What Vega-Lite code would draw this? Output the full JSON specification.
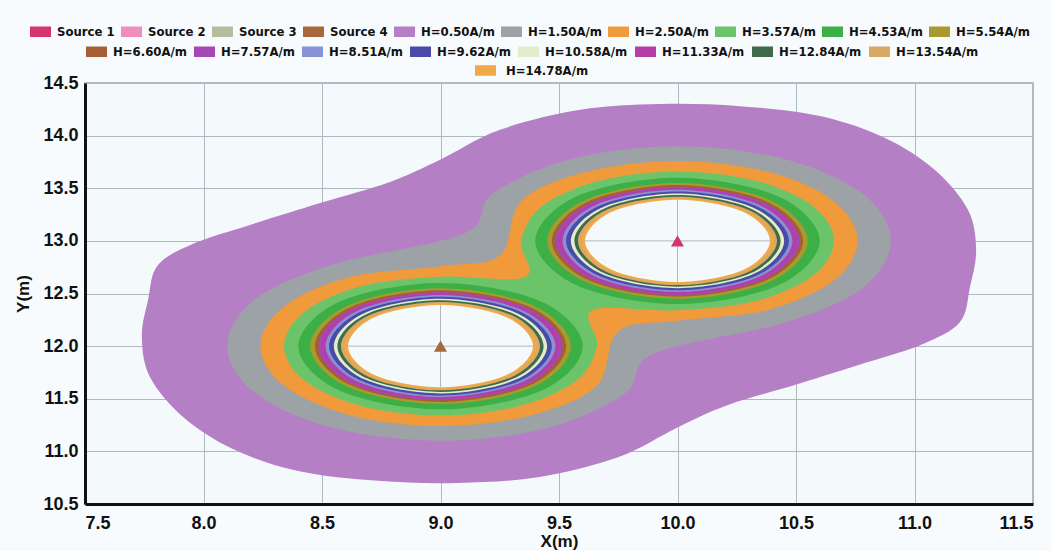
{
"$schema":"https://vega.github.io/schema/vega-lite/v6.json",
"width":948,"height":421,
"autosize":{"type":"none"},
"padding":{"left":85,"top":83,"right":19,"bottom":47},
"background":"#f8fbfd",
"config":{
 "view":{"stroke":"#9aa4ad","strokeWidth":1.5,"fill":"#f4f9fc"},
 "axis":{"domainColor":"#111","domainWidth":3,"ticks":false,"gridColor":"#b0b8c0","gridWidth":1,"labelFont":"Liberation Sans","labelFontSize":18,"labelFontWeight":"bold","labelColor":"#111","titleFont":"Liberation Sans","titleFontSize":17,"titleFontWeight":"bold","titleColor":"#111"},
 "legend":{"labelFont":"DejaVu Sans Condensed","labelFontSize":13,"labelFontWeight":"bold","labelColor":"#111","symbolType":"M-1,-0.5H1V0.5H-1Z","symbolSize":441,"symbolStrokeWidth":0,"padding":0,"rowPadding":0,"labelLimit":200}
},
"datasets":{
"contours":[
{"level":"H=0.50A/m","shape":"P","i":0,"x":7.766,"y":12.438},
{"level":"H=0.50A/m","shape":"P","i":1,"x":7.808,"y":12.771},
{"level":"H=0.50A/m","shape":"P","i":2,"x":7.964,"y":12.98},
{"level":"H=0.50A/m","shape":"P","i":3,"x":8.196,"y":13.152},
{"level":"H=0.50A/m","shape":"P","i":4,"x":8.492,"y":13.36},
{"level":"H=0.50A/m","shape":"P","i":5,"x":8.787,"y":13.56},
{"level":"H=0.50A/m","shape":"P","i":6,"x":8.998,"y":13.77},
{"level":"H=0.50A/m","shape":"P","i":7,"x":9.251,"y":14.055},
{"level":"H=0.50A/m","shape":"P","i":8,"x":9.589,"y":14.245},
{"level":"H=0.50A/m","shape":"P","i":9,"x":9.926,"y":14.3},
{"level":"H=0.50A/m","shape":"P","i":10,"x":10.264,"y":14.28},
{"level":"H=0.50A/m","shape":"P","i":11,"x":10.601,"y":14.186},
{"level":"H=0.50A/m","shape":"P","i":12,"x":10.876,"y":13.977},
{"level":"H=0.50A/m","shape":"P","i":13,"x":11.086,"y":13.673},
{"level":"H=0.50A/m","shape":"P","i":14,"x":11.226,"y":13.293},
{"level":"H=0.50A/m","shape":"P","i":15,"x":11.26,"y":12.913},
{"level":"H=0.50A/m","shape":"P","i":16,"x":11.234,"y":12.562},
{"level":"H=0.50A/m","shape":"P","i":17,"x":11.192,"y":12.229},
{"level":"H=0.50A/m","shape":"P","i":18,"x":11.036,"y":12.02},
{"level":"H=0.50A/m","shape":"P","i":19,"x":10.804,"y":11.848},
{"level":"H=0.50A/m","shape":"P","i":20,"x":10.508,"y":11.64},
{"level":"H=0.50A/m","shape":"P","i":21,"x":10.213,"y":11.44},
{"level":"H=0.50A/m","shape":"P","i":22,"x":10.002,"y":11.23},
{"level":"H=0.50A/m","shape":"P","i":23,"x":9.749,"y":10.945},
{"level":"H=0.50A/m","shape":"P","i":24,"x":9.411,"y":10.755},
{"level":"H=0.50A/m","shape":"P","i":25,"x":9.074,"y":10.7},
{"level":"H=0.50A/m","shape":"P","i":26,"x":8.736,"y":10.72},
{"level":"H=0.50A/m","shape":"P","i":27,"x":8.399,"y":10.814},
{"level":"H=0.50A/m","shape":"P","i":28,"x":8.124,"y":11.023},
{"level":"H=0.50A/m","shape":"P","i":29,"x":7.914,"y":11.327},
{"level":"H=0.50A/m","shape":"P","i":30,"x":7.774,"y":11.707},
{"level":"H=0.50A/m","shape":"P","i":31,"x":7.74,"y":12.087},
{"level":"H=1.50A/m","shape":"P","i":0,"x":10.45,"y":12.221},
{"level":"H=1.50A/m","shape":"P","i":1,"x":10.779,"y":12.55},
{"level":"H=1.50A/m","shape":"P","i":2,"x":10.9,"y":13.0},
{"level":"H=1.50A/m","shape":"P","i":3,"x":10.779,"y":13.45},
{"level":"H=1.50A/m","shape":"P","i":4,"x":10.45,"y":13.779},
{"level":"H=1.50A/m","shape":"P","i":5,"x":10.0,"y":13.9},
{"level":"H=1.50A/m","shape":"P","i":6,"x":9.55,"y":13.779},
{"level":"H=1.50A/m","shape":"P","i":7,"x":9.221,"y":13.45},
{"level":"H=1.50A/m","shape":"P","i":8,"x":9.1,"y":13.07},
{"level":"H=1.50A/m","shape":"P","i":9,"x":8.55,"y":12.779},
{"level":"H=1.50A/m","shape":"P","i":10,"x":8.221,"y":12.45},
{"level":"H=1.50A/m","shape":"P","i":11,"x":8.1,"y":12.0},
{"level":"H=1.50A/m","shape":"P","i":12,"x":8.221,"y":11.55},
{"level":"H=1.50A/m","shape":"P","i":13,"x":8.55,"y":11.221},
{"level":"H=1.50A/m","shape":"P","i":14,"x":9.0,"y":11.1},
{"level":"H=1.50A/m","shape":"P","i":15,"x":9.45,"y":11.221},
{"level":"H=1.50A/m","shape":"P","i":16,"x":9.779,"y":11.55},
{"level":"H=1.50A/m","shape":"P","i":17,"x":9.9,"y":11.93},
{"level":"H=2.50A/m","shape":"P","i":0,"x":10.0,"y":12.24},
{"level":"H=2.50A/m","shape":"P","i":1,"x":10.38,"y":12.342},
{"level":"H=2.50A/m","shape":"P","i":2,"x":10.658,"y":12.62},
{"level":"H=2.50A/m","shape":"P","i":3,"x":10.76,"y":13.0},
{"level":"H=2.50A/m","shape":"P","i":4,"x":10.658,"y":13.38},
{"level":"H=2.50A/m","shape":"P","i":5,"x":10.38,"y":13.658},
{"level":"H=2.50A/m","shape":"P","i":6,"x":10.0,"y":13.76},
{"level":"H=2.50A/m","shape":"P","i":7,"x":9.62,"y":13.658},
{"level":"H=2.50A/m","shape":"P","i":8,"x":9.342,"y":13.38},
{"level":"H=2.50A/m","shape":"P","i":9,"x":9.25,"y":12.86},
{"level":"H=2.50A/m","shape":"P","i":10,"x":9.0,"y":12.76},
{"level":"H=2.50A/m","shape":"P","i":11,"x":8.62,"y":12.658},
{"level":"H=2.50A/m","shape":"P","i":12,"x":8.342,"y":12.38},
{"level":"H=2.50A/m","shape":"P","i":13,"x":8.24,"y":12.0},
{"level":"H=2.50A/m","shape":"P","i":14,"x":8.342,"y":11.62},
{"level":"H=2.50A/m","shape":"P","i":15,"x":8.62,"y":11.342},
{"level":"H=2.50A/m","shape":"P","i":16,"x":9.0,"y":11.24},
{"level":"H=2.50A/m","shape":"P","i":17,"x":9.38,"y":11.342},
{"level":"H=2.50A/m","shape":"P","i":18,"x":9.658,"y":11.62},
{"level":"H=2.50A/m","shape":"P","i":19,"x":9.75,"y":12.14},
{"level":"H=3.57A/m","shape":"P","i":0,"x":10.0,"y":12.34},
{"level":"H=3.57A/m","shape":"P","i":1,"x":10.33,"y":12.428},
{"level":"H=3.57A/m","shape":"P","i":2,"x":10.572,"y":12.67},
{"level":"H=3.57A/m","shape":"P","i":3,"x":10.66,"y":13.0},
{"level":"H=3.57A/m","shape":"P","i":4,"x":10.572,"y":13.33},
{"level":"H=3.57A/m","shape":"P","i":5,"x":10.33,"y":13.572},
{"level":"H=3.57A/m","shape":"P","i":6,"x":10.0,"y":13.66},
{"level":"H=3.57A/m","shape":"P","i":7,"x":9.67,"y":13.572},
{"level":"H=3.57A/m","shape":"P","i":8,"x":9.428,"y":13.33},
{"level":"H=3.57A/m","shape":"P","i":9,"x":9.34,"y":13.0},
{"level":"H=3.57A/m","shape":"P","i":10,"x":9.357,"y":12.657},
{"level":"H=3.57A/m","shape":"P","i":11,"x":9.0,"y":12.66},
{"level":"H=3.57A/m","shape":"P","i":12,"x":8.67,"y":12.572},
{"level":"H=3.57A/m","shape":"P","i":13,"x":8.428,"y":12.33},
{"level":"H=3.57A/m","shape":"P","i":14,"x":8.34,"y":12.0},
{"level":"H=3.57A/m","shape":"P","i":15,"x":8.428,"y":11.67},
{"level":"H=3.57A/m","shape":"P","i":16,"x":8.67,"y":11.428},
{"level":"H=3.57A/m","shape":"P","i":17,"x":9.0,"y":11.34},
{"level":"H=3.57A/m","shape":"P","i":18,"x":9.33,"y":11.428},
{"level":"H=3.57A/m","shape":"P","i":19,"x":9.572,"y":11.67},
{"level":"H=3.57A/m","shape":"P","i":20,"x":9.66,"y":12.0},
{"level":"H=3.57A/m","shape":"P","i":21,"x":9.643,"y":12.343},
{"level":"H=4.53A/m","shape":"A","i":0,"x":9.6,"y":12},{"level":"H=4.53A/m","shape":"A","i":1,"x":9.424,"y":12.424},{"level":"H=4.53A/m","shape":"A","i":2,"x":9,"y":12.6},{"level":"H=4.53A/m","shape":"A","i":3,"x":8.576,"y":12.424},{"level":"H=4.53A/m","shape":"A","i":4,"x":8.4,"y":12},{"level":"H=4.53A/m","shape":"A","i":5,"x":8.576,"y":11.576},{"level":"H=4.53A/m","shape":"A","i":6,"x":9,"y":11.4},{"level":"H=4.53A/m","shape":"A","i":7,"x":9.424,"y":11.576},
{"level":"H=4.53A/m","shape":"B","i":0,"x":10.6,"y":13},{"level":"H=4.53A/m","shape":"B","i":1,"x":10.424,"y":13.424},{"level":"H=4.53A/m","shape":"B","i":2,"x":10,"y":13.6},{"level":"H=4.53A/m","shape":"B","i":3,"x":9.576,"y":13.424},{"level":"H=4.53A/m","shape":"B","i":4,"x":9.4,"y":13},{"level":"H=4.53A/m","shape":"B","i":5,"x":9.576,"y":12.576},{"level":"H=4.53A/m","shape":"B","i":6,"x":10,"y":12.4},{"level":"H=4.53A/m","shape":"B","i":7,"x":10.424,"y":12.576},
{"level":"H=5.54A/m","shape":"A","i":0,"x":9.55,"y":12},{"level":"H=5.54A/m","shape":"A","i":1,"x":9.389,"y":12.389},{"level":"H=5.54A/m","shape":"A","i":2,"x":9,"y":12.55},{"level":"H=5.54A/m","shape":"A","i":3,"x":8.611,"y":12.389},{"level":"H=5.54A/m","shape":"A","i":4,"x":8.45,"y":12},{"level":"H=5.54A/m","shape":"A","i":5,"x":8.611,"y":11.611},{"level":"H=5.54A/m","shape":"A","i":6,"x":9,"y":11.45},{"level":"H=5.54A/m","shape":"A","i":7,"x":9.389,"y":11.611},
{"level":"H=5.54A/m","shape":"B","i":0,"x":10.55,"y":13},{"level":"H=5.54A/m","shape":"B","i":1,"x":10.389,"y":13.389},{"level":"H=5.54A/m","shape":"B","i":2,"x":10,"y":13.55},{"level":"H=5.54A/m","shape":"B","i":3,"x":9.611,"y":13.389},{"level":"H=5.54A/m","shape":"B","i":4,"x":9.45,"y":13},{"level":"H=5.54A/m","shape":"B","i":5,"x":9.611,"y":12.611},{"level":"H=5.54A/m","shape":"B","i":6,"x":10,"y":12.45},{"level":"H=5.54A/m","shape":"B","i":7,"x":10.389,"y":12.611},
{"level":"H=6.60A/m","shape":"A","i":0,"x":9.53,"y":12},{"level":"H=6.60A/m","shape":"A","i":1,"x":9.375,"y":12.375},{"level":"H=6.60A/m","shape":"A","i":2,"x":9,"y":12.53},{"level":"H=6.60A/m","shape":"A","i":3,"x":8.625,"y":12.375},{"level":"H=6.60A/m","shape":"A","i":4,"x":8.47,"y":12},{"level":"H=6.60A/m","shape":"A","i":5,"x":8.625,"y":11.625},{"level":"H=6.60A/m","shape":"A","i":6,"x":9,"y":11.47},{"level":"H=6.60A/m","shape":"A","i":7,"x":9.375,"y":11.625},
{"level":"H=6.60A/m","shape":"B","i":0,"x":10.53,"y":13},{"level":"H=6.60A/m","shape":"B","i":1,"x":10.375,"y":13.375},{"level":"H=6.60A/m","shape":"B","i":2,"x":10,"y":13.53},{"level":"H=6.60A/m","shape":"B","i":3,"x":9.625,"y":13.375},{"level":"H=6.60A/m","shape":"B","i":4,"x":9.47,"y":13},{"level":"H=6.60A/m","shape":"B","i":5,"x":9.625,"y":12.625},{"level":"H=6.60A/m","shape":"B","i":6,"x":10,"y":12.47},{"level":"H=6.60A/m","shape":"B","i":7,"x":10.375,"y":12.625},
{"level":"H=7.57A/m","shape":"A","i":0,"x":9.515,"y":12},{"level":"H=7.57A/m","shape":"A","i":1,"x":9.364,"y":12.364},{"level":"H=7.57A/m","shape":"A","i":2,"x":9,"y":12.515},{"level":"H=7.57A/m","shape":"A","i":3,"x":8.636,"y":12.364},{"level":"H=7.57A/m","shape":"A","i":4,"x":8.485,"y":12},{"level":"H=7.57A/m","shape":"A","i":5,"x":8.636,"y":11.636},{"level":"H=7.57A/m","shape":"A","i":6,"x":9,"y":11.485},{"level":"H=7.57A/m","shape":"A","i":7,"x":9.364,"y":11.636},
{"level":"H=7.57A/m","shape":"B","i":0,"x":10.515,"y":13},{"level":"H=7.57A/m","shape":"B","i":1,"x":10.364,"y":13.364},{"level":"H=7.57A/m","shape":"B","i":2,"x":10,"y":13.515},{"level":"H=7.57A/m","shape":"B","i":3,"x":9.636,"y":13.364},{"level":"H=7.57A/m","shape":"B","i":4,"x":9.485,"y":13},{"level":"H=7.57A/m","shape":"B","i":5,"x":9.636,"y":12.636},{"level":"H=7.57A/m","shape":"B","i":6,"x":10,"y":12.485},{"level":"H=7.57A/m","shape":"B","i":7,"x":10.364,"y":12.636},
{"level":"H=11.33A/m","shape":"A","i":0,"x":9.5,"y":12},{"level":"H=11.33A/m","shape":"A","i":1,"x":9.354,"y":12.354},{"level":"H=11.33A/m","shape":"A","i":2,"x":9,"y":12.5},{"level":"H=11.33A/m","shape":"A","i":3,"x":8.646,"y":12.354},{"level":"H=11.33A/m","shape":"A","i":4,"x":8.5,"y":12},{"level":"H=11.33A/m","shape":"A","i":5,"x":8.646,"y":11.646},{"level":"H=11.33A/m","shape":"A","i":6,"x":9,"y":11.5},{"level":"H=11.33A/m","shape":"A","i":7,"x":9.354,"y":11.646},
{"level":"H=11.33A/m","shape":"B","i":0,"x":10.5,"y":13},{"level":"H=11.33A/m","shape":"B","i":1,"x":10.354,"y":13.354},{"level":"H=11.33A/m","shape":"B","i":2,"x":10,"y":13.5},{"level":"H=11.33A/m","shape":"B","i":3,"x":9.646,"y":13.354},{"level":"H=11.33A/m","shape":"B","i":4,"x":9.5,"y":13},{"level":"H=11.33A/m","shape":"B","i":5,"x":9.646,"y":12.646},{"level":"H=11.33A/m","shape":"B","i":6,"x":10,"y":12.5},{"level":"H=11.33A/m","shape":"B","i":7,"x":10.354,"y":12.646},
{"level":"H=8.51A/m","shape":"A","i":0,"x":9.485,"y":12},{"level":"H=8.51A/m","shape":"A","i":1,"x":9.343,"y":12.343},{"level":"H=8.51A/m","shape":"A","i":2,"x":9,"y":12.485},{"level":"H=8.51A/m","shape":"A","i":3,"x":8.657,"y":12.343},{"level":"H=8.51A/m","shape":"A","i":4,"x":8.515,"y":12},{"level":"H=8.51A/m","shape":"A","i":5,"x":8.657,"y":11.657},{"level":"H=8.51A/m","shape":"A","i":6,"x":9,"y":11.515},{"level":"H=8.51A/m","shape":"A","i":7,"x":9.343,"y":11.657},
{"level":"H=8.51A/m","shape":"B","i":0,"x":10.485,"y":13},{"level":"H=8.51A/m","shape":"B","i":1,"x":10.343,"y":13.343},{"level":"H=8.51A/m","shape":"B","i":2,"x":10,"y":13.485},{"level":"H=8.51A/m","shape":"B","i":3,"x":9.657,"y":13.343},{"level":"H=8.51A/m","shape":"B","i":4,"x":9.515,"y":13},{"level":"H=8.51A/m","shape":"B","i":5,"x":9.657,"y":12.657},{"level":"H=8.51A/m","shape":"B","i":6,"x":10,"y":12.515},{"level":"H=8.51A/m","shape":"B","i":7,"x":10.343,"y":12.657},
{"level":"H=9.62A/m","shape":"A","i":0,"x":9.47,"y":12},{"level":"H=9.62A/m","shape":"A","i":1,"x":9.332,"y":12.332},{"level":"H=9.62A/m","shape":"A","i":2,"x":9,"y":12.47},{"level":"H=9.62A/m","shape":"A","i":3,"x":8.668,"y":12.332},{"level":"H=9.62A/m","shape":"A","i":4,"x":8.53,"y":12},{"level":"H=9.62A/m","shape":"A","i":5,"x":8.668,"y":11.668},{"level":"H=9.62A/m","shape":"A","i":6,"x":9,"y":11.53},{"level":"H=9.62A/m","shape":"A","i":7,"x":9.332,"y":11.668},
{"level":"H=9.62A/m","shape":"B","i":0,"x":10.47,"y":13},{"level":"H=9.62A/m","shape":"B","i":1,"x":10.332,"y":13.332},{"level":"H=9.62A/m","shape":"B","i":2,"x":10,"y":13.47},{"level":"H=9.62A/m","shape":"B","i":3,"x":9.668,"y":13.332},{"level":"H=9.62A/m","shape":"B","i":4,"x":9.53,"y":13},{"level":"H=9.62A/m","shape":"B","i":5,"x":9.668,"y":12.668},{"level":"H=9.62A/m","shape":"B","i":6,"x":10,"y":12.53},{"level":"H=9.62A/m","shape":"B","i":7,"x":10.332,"y":12.668},
{"level":"H=10.58A/m","shape":"A","i":0,"x":9.45,"y":12},{"level":"H=10.58A/m","shape":"A","i":1,"x":9.318,"y":12.318},{"level":"H=10.58A/m","shape":"A","i":2,"x":9,"y":12.45},{"level":"H=10.58A/m","shape":"A","i":3,"x":8.682,"y":12.318},{"level":"H=10.58A/m","shape":"A","i":4,"x":8.55,"y":12},{"level":"H=10.58A/m","shape":"A","i":5,"x":8.682,"y":11.682},{"level":"H=10.58A/m","shape":"A","i":6,"x":9,"y":11.55},{"level":"H=10.58A/m","shape":"A","i":7,"x":9.318,"y":11.682},
{"level":"H=10.58A/m","shape":"B","i":0,"x":10.45,"y":13},{"level":"H=10.58A/m","shape":"B","i":1,"x":10.318,"y":13.318},{"level":"H=10.58A/m","shape":"B","i":2,"x":10,"y":13.45},{"level":"H=10.58A/m","shape":"B","i":3,"x":9.682,"y":13.318},{"level":"H=10.58A/m","shape":"B","i":4,"x":9.55,"y":13},{"level":"H=10.58A/m","shape":"B","i":5,"x":9.682,"y":12.682},{"level":"H=10.58A/m","shape":"B","i":6,"x":10,"y":12.55},{"level":"H=10.58A/m","shape":"B","i":7,"x":10.318,"y":12.682},
{"level":"H=12.84A/m","shape":"A","i":0,"x":9.435,"y":12},{"level":"H=12.84A/m","shape":"A","i":1,"x":9.308,"y":12.308},{"level":"H=12.84A/m","shape":"A","i":2,"x":9,"y":12.435},{"level":"H=12.84A/m","shape":"A","i":3,"x":8.692,"y":12.308},{"level":"H=12.84A/m","shape":"A","i":4,"x":8.565,"y":12},{"level":"H=12.84A/m","shape":"A","i":5,"x":8.692,"y":11.692},{"level":"H=12.84A/m","shape":"A","i":6,"x":9,"y":11.565},{"level":"H=12.84A/m","shape":"A","i":7,"x":9.308,"y":11.692},
{"level":"H=12.84A/m","shape":"B","i":0,"x":10.435,"y":13},{"level":"H=12.84A/m","shape":"B","i":1,"x":10.308,"y":13.308},{"level":"H=12.84A/m","shape":"B","i":2,"x":10,"y":13.435},{"level":"H=12.84A/m","shape":"B","i":3,"x":9.692,"y":13.308},{"level":"H=12.84A/m","shape":"B","i":4,"x":9.565,"y":13},{"level":"H=12.84A/m","shape":"B","i":5,"x":9.692,"y":12.692},{"level":"H=12.84A/m","shape":"B","i":6,"x":10,"y":12.565},{"level":"H=12.84A/m","shape":"B","i":7,"x":10.308,"y":12.692},
{"level":"H=13.54A/m","shape":"A","i":0,"x":9.42,"y":12},{"level":"H=13.54A/m","shape":"A","i":1,"x":9.297,"y":12.297},{"level":"H=13.54A/m","shape":"A","i":2,"x":9,"y":12.42},{"level":"H=13.54A/m","shape":"A","i":3,"x":8.703,"y":12.297},{"level":"H=13.54A/m","shape":"A","i":4,"x":8.58,"y":12},{"level":"H=13.54A/m","shape":"A","i":5,"x":8.703,"y":11.703},{"level":"H=13.54A/m","shape":"A","i":6,"x":9,"y":11.58},{"level":"H=13.54A/m","shape":"A","i":7,"x":9.297,"y":11.703},
{"level":"H=13.54A/m","shape":"B","i":0,"x":10.42,"y":13},{"level":"H=13.54A/m","shape":"B","i":1,"x":10.297,"y":13.297},{"level":"H=13.54A/m","shape":"B","i":2,"x":10,"y":13.42},{"level":"H=13.54A/m","shape":"B","i":3,"x":9.703,"y":13.297},{"level":"H=13.54A/m","shape":"B","i":4,"x":9.58,"y":13},{"level":"H=13.54A/m","shape":"B","i":5,"x":9.703,"y":12.703},{"level":"H=13.54A/m","shape":"B","i":6,"x":10,"y":12.58},{"level":"H=13.54A/m","shape":"B","i":7,"x":10.297,"y":12.703},
{"level":"H=14.78A/m","shape":"A","i":0,"x":9.405,"y":12},{"level":"H=14.78A/m","shape":"A","i":1,"x":9.286,"y":12.286},{"level":"H=14.78A/m","shape":"A","i":2,"x":9,"y":12.405},{"level":"H=14.78A/m","shape":"A","i":3,"x":8.714,"y":12.286},{"level":"H=14.78A/m","shape":"A","i":4,"x":8.595,"y":12},{"level":"H=14.78A/m","shape":"A","i":5,"x":8.714,"y":11.714},{"level":"H=14.78A/m","shape":"A","i":6,"x":9,"y":11.595},{"level":"H=14.78A/m","shape":"A","i":7,"x":9.286,"y":11.714},
{"level":"H=14.78A/m","shape":"B","i":0,"x":10.405,"y":13},{"level":"H=14.78A/m","shape":"B","i":1,"x":10.286,"y":13.286},{"level":"H=14.78A/m","shape":"B","i":2,"x":10,"y":13.405},{"level":"H=14.78A/m","shape":"B","i":3,"x":9.714,"y":13.286},{"level":"H=14.78A/m","shape":"B","i":4,"x":9.595,"y":13},{"level":"H=14.78A/m","shape":"B","i":5,"x":9.714,"y":12.714},{"level":"H=14.78A/m","shape":"B","i":6,"x":10,"y":12.595},{"level":"H=14.78A/m","shape":"B","i":7,"x":10.286,"y":12.714},
{"level":"inside","shape":"A","i":0,"x":9.39,"y":12},{"level":"inside","shape":"A","i":1,"x":9.276,"y":12.276},{"level":"inside","shape":"A","i":2,"x":9,"y":12.39},{"level":"inside","shape":"A","i":3,"x":8.724,"y":12.276},{"level":"inside","shape":"A","i":4,"x":8.61,"y":12},{"level":"inside","shape":"A","i":5,"x":8.724,"y":11.724},{"level":"inside","shape":"A","i":6,"x":9,"y":11.61},{"level":"inside","shape":"A","i":7,"x":9.276,"y":11.724},
{"level":"inside","shape":"B","i":0,"x":10.39,"y":13},{"level":"inside","shape":"B","i":1,"x":10.276,"y":13.276},{"level":"inside","shape":"B","i":2,"x":10,"y":13.39},{"level":"inside","shape":"B","i":3,"x":9.724,"y":13.276},{"level":"inside","shape":"B","i":4,"x":9.61,"y":13},{"level":"inside","shape":"B","i":5,"x":9.724,"y":12.724},{"level":"inside","shape":"B","i":6,"x":10,"y":12.61},{"level":"inside","shape":"B","i":7,"x":10.276,"y":12.724}
],
"gridseg":[
{"x":9,"x2":9,"y":11.61,"y2":12.39},
{"x":8.61,"x2":9.39,"y":12,"y2":12},
{"x":10,"x2":10,"y":12.61,"y2":13.39},
{"x":9.61,"x2":10.39,"y":13,"y2":13}
],
"sources":[
{"level":"Source 1","x":10.0,"y":13.0},
{"level":"Source 4","x":9.0,"y":12.0}
]
},
"encoding":{
 "x":{"field":"x","type":"quantitative","scale":{"domain":[7.5,11.5],"nice":false,"zero":false},"axis":{"title":"X(m)","values":[7.5,8,8.5,9,9.5,10,10.5,11,11.5],"format":".1f","labelPadding":10,"titlePadding":1}},
 "y":{"field":"y","type":"quantitative","scale":{"domain":[10.5,14.5],"nice":false,"zero":false},"axis":{"title":"Y(m)","values":[10.5,11,11.5,12,12.5,13,13.5,14,14.5],"format":".1f","labelPadding":7,"titlePadding":10}}
},
"layer":[
{"data":{"name":"contours"},"transform":[{"filter":{"field":"level","equal":"H=0.50A/m"}}],"mark":{"type":"line","interpolate":"cardinal-closed","strokeWidth":0},
 "encoding":{"detail":{"field":"shape"},"order":{"field":"i","type":"quantitative"},
 "fill":{"field":"level","type":"nominal","scale":{"domain":["Source 1","Source 2","Source 3","Source 4","H=0.50A/m","H=1.50A/m","H=2.50A/m","H=3.57A/m","H=4.53A/m","H=5.54A/m"],"range":["#d5356b","#f08cc0","#b5bd9e","#a9683b","#b57fc6","#9ca2a5","#f09a3c","#6cc46a","#3caf46","#a89a2e"]},"legend":{"title":null,"orient":"none","legendX":-55,"legendY":-62,"direction":"horizontal","columns":10,"columnPadding":6,"labelOffset":6,"encode":{"symbols":{"update":{"fill":{"scale":"fill","field":"value"},"strokeWidth":{"value":0}}}}}}}},
{"data":{"name":"contours"},"transform":[{"filter":{"field":"level","equal":"H=1.50A/m"}}],"mark":{"type":"line","interpolate":"cardinal-closed","strokeWidth":0},
 "encoding":{"detail":{"field":"shape"},"order":{"field":"i","type":"quantitative"},
 "fill":{"field":"level","type":"nominal","scale":{"domain":["Source 1","Source 2","Source 3","Source 4","H=0.50A/m","H=1.50A/m","H=2.50A/m","H=3.57A/m","H=4.53A/m","H=5.54A/m"],"range":["#d5356b","#f08cc0","#b5bd9e","#a9683b","#b57fc6","#9ca2a5","#f09a3c","#6cc46a","#3caf46","#a89a2e"]},"legend":{"title":null,"orient":"none","legendX":-55,"legendY":-62,"direction":"horizontal","columns":10,"columnPadding":6,"labelOffset":6,"encode":{"symbols":{"update":{"fill":{"scale":"fill","field":"value"},"strokeWidth":{"value":0}}}}}}}},
{"data":{"name":"contours"},"transform":[{"filter":{"field":"level","equal":"H=2.50A/m"}}],"mark":{"type":"line","interpolate":"cardinal-closed","strokeWidth":0},
 "encoding":{"detail":{"field":"shape"},"order":{"field":"i","type":"quantitative"},
 "fill":{"field":"level","type":"nominal","scale":{"domain":["Source 1","Source 2","Source 3","Source 4","H=0.50A/m","H=1.50A/m","H=2.50A/m","H=3.57A/m","H=4.53A/m","H=5.54A/m"],"range":["#d5356b","#f08cc0","#b5bd9e","#a9683b","#b57fc6","#9ca2a5","#f09a3c","#6cc46a","#3caf46","#a89a2e"]},"legend":{"title":null,"orient":"none","legendX":-55,"legendY":-62,"direction":"horizontal","columns":10,"columnPadding":6,"labelOffset":6,"encode":{"symbols":{"update":{"fill":{"scale":"fill","field":"value"},"strokeWidth":{"value":0}}}}}}}},
{"data":{"name":"contours"},"transform":[{"filter":{"field":"level","equal":"H=3.57A/m"}}],"mark":{"type":"line","interpolate":"cardinal-closed","strokeWidth":0},
 "encoding":{"detail":{"field":"shape"},"order":{"field":"i","type":"quantitative"},
 "fill":{"field":"level","type":"nominal","scale":{"domain":["Source 1","Source 2","Source 3","Source 4","H=0.50A/m","H=1.50A/m","H=2.50A/m","H=3.57A/m","H=4.53A/m","H=5.54A/m"],"range":["#d5356b","#f08cc0","#b5bd9e","#a9683b","#b57fc6","#9ca2a5","#f09a3c","#6cc46a","#3caf46","#a89a2e"]},"legend":{"title":null,"orient":"none","legendX":-55,"legendY":-62,"direction":"horizontal","columns":10,"columnPadding":6,"labelOffset":6,"encode":{"symbols":{"update":{"fill":{"scale":"fill","field":"value"},"strokeWidth":{"value":0}}}}}}}},
{"data":{"name":"contours"},"transform":[{"filter":{"field":"level","equal":"H=4.53A/m"}}],"mark":{"type":"line","interpolate":"cardinal-closed","strokeWidth":0},
 "encoding":{"detail":{"field":"shape"},"order":{"field":"i","type":"quantitative"},
 "fill":{"field":"level","type":"nominal","scale":{"domain":["Source 1","Source 2","Source 3","Source 4","H=0.50A/m","H=1.50A/m","H=2.50A/m","H=3.57A/m","H=4.53A/m","H=5.54A/m"],"range":["#d5356b","#f08cc0","#b5bd9e","#a9683b","#b57fc6","#9ca2a5","#f09a3c","#6cc46a","#3caf46","#a89a2e"]},"legend":{"title":null,"orient":"none","legendX":-55,"legendY":-62,"direction":"horizontal","columns":10,"columnPadding":6,"labelOffset":6,"encode":{"symbols":{"update":{"fill":{"scale":"fill","field":"value"},"strokeWidth":{"value":0}}}}}}}},
{"data":{"name":"contours"},"transform":[{"filter":{"field":"level","equal":"H=5.54A/m"}}],"mark":{"type":"line","interpolate":"cardinal-closed","strokeWidth":0},
 "encoding":{"detail":{"field":"shape"},"order":{"field":"i","type":"quantitative"},
 "fill":{"field":"level","type":"nominal","scale":{"domain":["Source 1","Source 2","Source 3","Source 4","H=0.50A/m","H=1.50A/m","H=2.50A/m","H=3.57A/m","H=4.53A/m","H=5.54A/m"],"range":["#d5356b","#f08cc0","#b5bd9e","#a9683b","#b57fc6","#9ca2a5","#f09a3c","#6cc46a","#3caf46","#a89a2e"]},"legend":{"title":null,"orient":"none","legendX":-55,"legendY":-62,"direction":"horizontal","columns":10,"columnPadding":6,"labelOffset":6,"encode":{"symbols":{"update":{"fill":{"scale":"fill","field":"value"},"strokeWidth":{"value":0}}}}}}}},
{"data":{"name":"contours"},"transform":[{"filter":{"field":"level","equal":"H=6.60A/m"}}],"mark":{"type":"line","interpolate":"cardinal-closed","filled":true,"strokeWidth":0},
 "encoding":{"detail":{"field":"shape"},"order":{"field":"i","type":"quantitative"},
 "color":{"field":"level","type":"nominal","scale":{"domain":["H=6.60A/m","H=7.57A/m","H=8.51A/m","H=9.62A/m","H=10.58A/m","H=11.33A/m","H=12.84A/m","H=13.54A/m"],"range":["#a45f35","#a547b4","#8890d6","#4a4aa8","#e2eecb","#b43da8","#3f6b4b","#d9a862"]},"legend":{"title":null,"orient":"none","legendX":1,"legendY":-42,"direction":"horizontal","columns":8,"columnPadding":7,"labelOffset":6,"encode":{"symbols":{"update":{"fill":{"scale":"color","field":"value"},"strokeWidth":{"value":0}}}}}}}},
{"data":{"name":"contours"},"transform":[{"filter":{"field":"level","equal":"H=7.57A/m"}}],"mark":{"type":"line","interpolate":"cardinal-closed","filled":true,"strokeWidth":0},
 "encoding":{"detail":{"field":"shape"},"order":{"field":"i","type":"quantitative"},
 "color":{"field":"level","type":"nominal","scale":{"domain":["H=6.60A/m","H=7.57A/m","H=8.51A/m","H=9.62A/m","H=10.58A/m","H=11.33A/m","H=12.84A/m","H=13.54A/m"],"range":["#a45f35","#a547b4","#8890d6","#4a4aa8","#e2eecb","#b43da8","#3f6b4b","#d9a862"]},"legend":{"title":null,"orient":"none","legendX":1,"legendY":-42,"direction":"horizontal","columns":8,"columnPadding":7,"labelOffset":6,"encode":{"symbols":{"update":{"fill":{"scale":"color","field":"value"},"strokeWidth":{"value":0}}}}}}}},
{"data":{"name":"contours"},"transform":[{"filter":{"field":"level","equal":"H=11.33A/m"}}],"mark":{"type":"line","interpolate":"cardinal-closed","filled":true,"strokeWidth":0},
 "encoding":{"detail":{"field":"shape"},"order":{"field":"i","type":"quantitative"},
 "color":{"field":"level","type":"nominal","scale":{"domain":["H=6.60A/m","H=7.57A/m","H=8.51A/m","H=9.62A/m","H=10.58A/m","H=11.33A/m","H=12.84A/m","H=13.54A/m"],"range":["#a45f35","#a547b4","#8890d6","#4a4aa8","#e2eecb","#b43da8","#3f6b4b","#d9a862"]},"legend":{"title":null,"orient":"none","legendX":1,"legendY":-42,"direction":"horizontal","columns":8,"columnPadding":7,"labelOffset":6,"encode":{"symbols":{"update":{"fill":{"scale":"color","field":"value"},"strokeWidth":{"value":0}}}}}}}},
{"data":{"name":"contours"},"transform":[{"filter":{"field":"level","equal":"H=8.51A/m"}}],"mark":{"type":"line","interpolate":"cardinal-closed","filled":true,"strokeWidth":0},
 "encoding":{"detail":{"field":"shape"},"order":{"field":"i","type":"quantitative"},
 "color":{"field":"level","type":"nominal","scale":{"domain":["H=6.60A/m","H=7.57A/m","H=8.51A/m","H=9.62A/m","H=10.58A/m","H=11.33A/m","H=12.84A/m","H=13.54A/m"],"range":["#a45f35","#a547b4","#8890d6","#4a4aa8","#e2eecb","#b43da8","#3f6b4b","#d9a862"]},"legend":{"title":null,"orient":"none","legendX":1,"legendY":-42,"direction":"horizontal","columns":8,"columnPadding":7,"labelOffset":6,"encode":{"symbols":{"update":{"fill":{"scale":"color","field":"value"},"strokeWidth":{"value":0}}}}}}}},
{"data":{"name":"contours"},"transform":[{"filter":{"field":"level","equal":"H=9.62A/m"}}],"mark":{"type":"line","interpolate":"cardinal-closed","filled":true,"strokeWidth":0},
 "encoding":{"detail":{"field":"shape"},"order":{"field":"i","type":"quantitative"},
 "color":{"field":"level","type":"nominal","scale":{"domain":["H=6.60A/m","H=7.57A/m","H=8.51A/m","H=9.62A/m","H=10.58A/m","H=11.33A/m","H=12.84A/m","H=13.54A/m"],"range":["#a45f35","#a547b4","#8890d6","#4a4aa8","#e2eecb","#b43da8","#3f6b4b","#d9a862"]},"legend":{"title":null,"orient":"none","legendX":1,"legendY":-42,"direction":"horizontal","columns":8,"columnPadding":7,"labelOffset":6,"encode":{"symbols":{"update":{"fill":{"scale":"color","field":"value"},"strokeWidth":{"value":0}}}}}}}},
{"data":{"name":"contours"},"transform":[{"filter":{"field":"level","equal":"H=10.58A/m"}}],"mark":{"type":"line","interpolate":"cardinal-closed","filled":true,"strokeWidth":0},
 "encoding":{"detail":{"field":"shape"},"order":{"field":"i","type":"quantitative"},
 "color":{"field":"level","type":"nominal","scale":{"domain":["H=6.60A/m","H=7.57A/m","H=8.51A/m","H=9.62A/m","H=10.58A/m","H=11.33A/m","H=12.84A/m","H=13.54A/m"],"range":["#a45f35","#a547b4","#8890d6","#4a4aa8","#e2eecb","#b43da8","#3f6b4b","#d9a862"]},"legend":{"title":null,"orient":"none","legendX":1,"legendY":-42,"direction":"horizontal","columns":8,"columnPadding":7,"labelOffset":6,"encode":{"symbols":{"update":{"fill":{"scale":"color","field":"value"},"strokeWidth":{"value":0}}}}}}}},
{"data":{"name":"contours"},"transform":[{"filter":{"field":"level","equal":"H=12.84A/m"}}],"mark":{"type":"line","interpolate":"cardinal-closed","filled":true,"strokeWidth":0},
 "encoding":{"detail":{"field":"shape"},"order":{"field":"i","type":"quantitative"},
 "color":{"field":"level","type":"nominal","scale":{"domain":["H=6.60A/m","H=7.57A/m","H=8.51A/m","H=9.62A/m","H=10.58A/m","H=11.33A/m","H=12.84A/m","H=13.54A/m"],"range":["#a45f35","#a547b4","#8890d6","#4a4aa8","#e2eecb","#b43da8","#3f6b4b","#d9a862"]},"legend":{"title":null,"orient":"none","legendX":1,"legendY":-42,"direction":"horizontal","columns":8,"columnPadding":7,"labelOffset":6,"encode":{"symbols":{"update":{"fill":{"scale":"color","field":"value"},"strokeWidth":{"value":0}}}}}}}},
{"data":{"name":"contours"},"transform":[{"filter":{"field":"level","equal":"H=13.54A/m"}}],"mark":{"type":"line","interpolate":"cardinal-closed","filled":true,"strokeWidth":0},
 "encoding":{"detail":{"field":"shape"},"order":{"field":"i","type":"quantitative"},
 "color":{"field":"level","type":"nominal","scale":{"domain":["H=6.60A/m","H=7.57A/m","H=8.51A/m","H=9.62A/m","H=10.58A/m","H=11.33A/m","H=12.84A/m","H=13.54A/m"],"range":["#a45f35","#a547b4","#8890d6","#4a4aa8","#e2eecb","#b43da8","#3f6b4b","#d9a862"]},"legend":{"title":null,"orient":"none","legendX":1,"legendY":-42,"direction":"horizontal","columns":8,"columnPadding":7,"labelOffset":6,"encode":{"symbols":{"update":{"fill":{"scale":"color","field":"value"},"strokeWidth":{"value":0}}}}}}}},
{"data":{"name":"contours"},"transform":[{"filter":{"field":"level","equal":"H=14.78A/m"}}],"mark":{"type":"line","interpolate":"cardinal-closed","fill":"#f0a848","strokeWidth":0.5},
 "encoding":{"detail":{"field":"shape"},"order":{"field":"i","type":"quantitative"},
 "stroke":{"field":"level","type":"nominal","scale":{"domain":["H=14.78A/m"],"range":["#f0a848"]},"legend":{"title":null,"orient":"none","legendX":390,"legendY":-23,"direction":"horizontal","columns":1,"labelOffset":10,"encode":{"symbols":{"update":{"fill":{"value":"#f0a848"},"strokeWidth":{"value":0}}}}}}}},
{"data":{"name":"contours"},"transform":[{"filter":{"field":"level","equal":"inside"}}],"mark":{"type":"line","interpolate":"cardinal-closed","fill":"#f4f9fc","strokeWidth":0},
 "encoding":{"detail":{"field":"shape"},"order":{"field":"i","type":"quantitative"}}},
{"data":{"name":"gridseg"},"mark":{"type":"rule","color":"#b0b8c0","strokeWidth":1},
 "encoding":{"x2":{"field":"x2"},"y2":{"field":"y2"}}},
{"data":{"name":"sources"},"mark":{"type":"point","shape":"triangle-up","filled":true,"size":170,"opacity":1,"strokeWidth":0},
 "encoding":{"fill":{"field":"level","type":"nominal","scale":{"domain":["Source 1","Source 2","Source 3","Source 4","H=0.50A/m","H=1.50A/m","H=2.50A/m","H=3.57A/m","H=4.53A/m","H=5.54A/m"],"range":["#d5356b","#f08cc0","#b5bd9e","#a9683b","#b57fc6","#9ca2a5","#f09a3c","#6cc46a","#3caf46","#a89a2e"]},"legend":{"title":null,"orient":"none","legendX":-55,"legendY":-62,"direction":"horizontal","columns":10,"columnPadding":6,"labelOffset":6,"encode":{"symbols":{"update":{"fill":{"scale":"fill","field":"value"},"strokeWidth":{"value":0}}}}}}}}
]
}
